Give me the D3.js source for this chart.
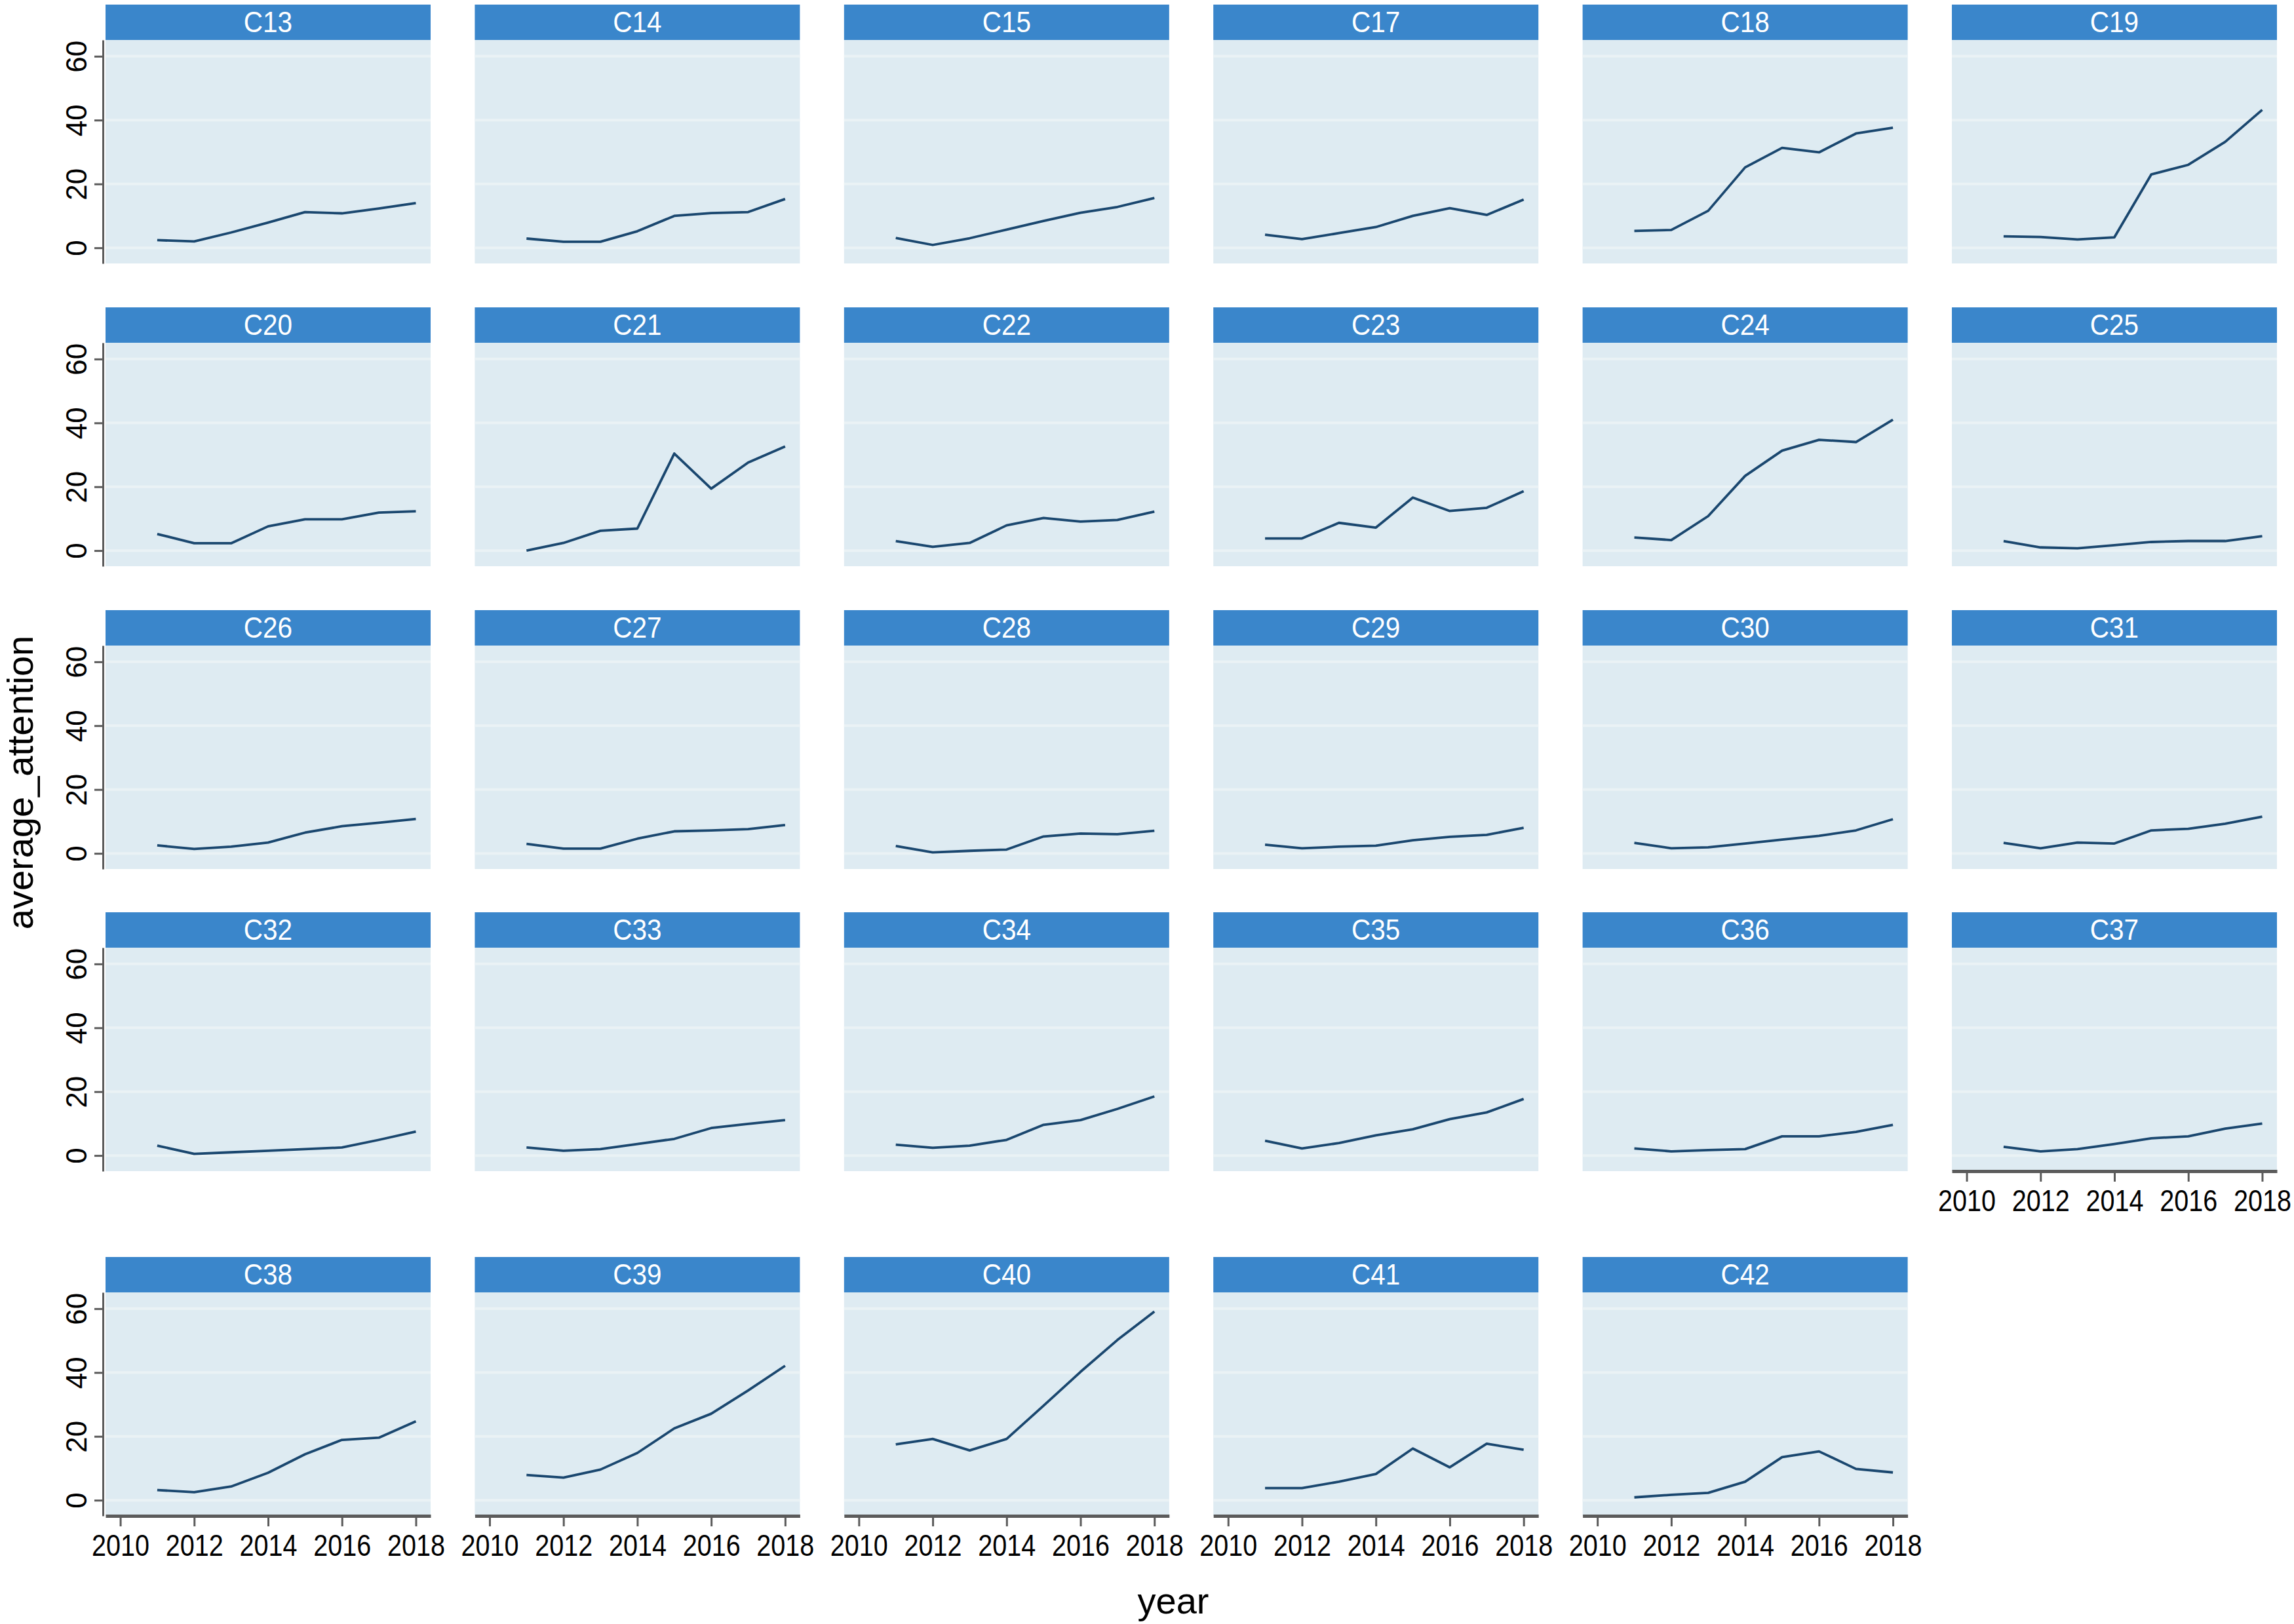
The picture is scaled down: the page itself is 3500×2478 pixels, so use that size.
<!DOCTYPE html>
<html>
<head>
<meta charset="utf-8">
<script src="https://cdn.jsdelivr.net/npm/d3@7"></script>
<style>
  body { margin: 0; background: #fff; }
  svg text { font-family: "Liberation Sans", Arial, sans-serif; }
</style>
</head>
<body>
<div id="chart"></div>
<script>
// years on the x axis
var years = [2011, 2012, 2013, 2014, 2015, 2016, 2017, 2018];
var xTicks = [2010, 2012, 2014, 2016, 2018];
var yTicks = [0, 20, 40, 60];

// panel names, in reading order
var panels = ["C13","C14","C15","C17","C18","C19",
              "C20","C21","C22","C23","C24","C25",
              "C26","C27","C28","C29","C30","C31",
              "C32","C33","C34","C35","C36","C37",
              "C38","C39","C40","C41","C42"];

// average_attention per panel, 2011..2018
var C13 = [2.4, 2.0, 4.8, 7.9, 11.2, 10.8, 12.3, 14.0];
var C14 = [2.9, 1.9, 1.9, 5.2, 10.0, 10.9, 11.2, 15.3];
var C15 = [3.1, 0.9, 3.0, 5.7, 8.4, 11.0, 12.8, 15.6];
var C17 = [4.1, 2.7, 4.6, 6.5, 10.0, 12.4, 10.3, 15.1];
var C18 = [5.3, 5.6, 11.6, 25.2, 31.3, 29.9, 35.8, 37.6];
var C19 = [3.6, 3.4, 2.6, 3.3, 23.0, 26.0, 33.2, 43.2];
var C20 = [5.2, 2.3, 2.3, 7.6, 9.8, 9.8, 11.9, 12.3];
var C21 = [0.0, 2.4, 6.2, 6.9, 30.4, 19.4, 27.6, 32.6];
var C22 = [3.0, 1.2, 2.4, 7.9, 10.2, 9.1, 9.6, 12.2];
var C23 = [3.8, 3.8, 8.7, 7.2, 16.6, 12.4, 13.4, 18.6];
var C24 = [4.1, 3.3, 10.8, 23.4, 31.3, 34.7, 34.0, 41.0];
var C25 = [3.0, 1.0, 0.7, 1.7, 2.7, 3.0, 3.0, 4.5];
var C26 = [2.5, 1.4, 2.1, 3.4, 6.5, 8.5, 9.6, 10.8];
var C27 = [3.0, 1.5, 1.5, 4.6, 6.9, 7.2, 7.6, 8.9];
var C28 = [2.3, 0.3, 0.8, 1.2, 5.3, 6.2, 6.0, 7.1];
var C29 = [2.7, 1.6, 2.1, 2.4, 4.1, 5.2, 5.8, 8.0];
var C30 = [3.3, 1.6, 1.9, 3.1, 4.3, 5.5, 7.2, 10.7];
var C31 = [3.3, 1.6, 3.4, 3.1, 7.2, 7.7, 9.3, 11.5];
var C32 = [3.1, 0.5, 1.0, 1.5, 2.0, 2.5, 4.9, 7.5];
var C33 = [2.5, 1.5, 2.0, 3.6, 5.2, 8.6, 9.9, 11.1];
var C34 = [3.4, 2.4, 3.1, 4.9, 9.6, 11.1, 14.6, 18.5];
var C35 = [4.6, 2.2, 3.9, 6.3, 8.2, 11.4, 13.5, 17.7];
var C36 = [2.2, 1.3, 1.7, 2.0, 6.0, 6.0, 7.4, 9.6];
var C37 = [2.7, 1.3, 2.0, 3.6, 5.4, 6.0, 8.4, 10.0];
var C38 = [3.2, 2.5, 4.3, 8.6, 14.4, 18.9, 19.6, 24.7];
var C39 = [7.9, 7.1, 9.6, 14.8, 22.5, 27.1, 34.4, 42.1];
var C40 = [17.5, 19.2, 15.6, 19.2, 29.6, 40.2, 50.2, 59.1];
var C41 = [3.8, 3.8, 5.8, 8.2, 16.2, 10.3, 17.7, 15.8];
var C42 = [0.9, 1.7, 2.3, 5.8, 13.5, 15.3, 9.8, 8.7];

var values = [C13,C14,C15,C17,C18,C19,C20,C21,C22,C23,C24,C25,
              C26,C27,C28,C29,C30,C31,C32,C33,C34,C35,C36,C37,
              C38,C39,C40,C41,C42];

var W = 3500, H = 2478;
var ncol = 6;
var colLeft = 161, colPitch = 563.4, pw = 496;
var rowTop = [7, 469, 931, 1392, 1918];
var stripH = 54, ph = 341;

var stripColor = "#3a86cb",
    plotBg = "#deebf2",
    gridColor = "#eaf2f5",
    lineColor = "#1a476f",
    axisColor = "#5b5b5b";

var svg = d3.select("#chart").append("svg")
    .attr("width", W)
    .attr("height", H)
    .attr("viewBox", "0,0," + W + "," + H);

var xScale = d3.scaleLinear().domain([2009.6, 2018.4]).range([0, pw]);
var yScale = d3.scaleLinear().domain([-4.9, 65.1]).range([ph, 0]);

var line = d3.line()
    .x(function(d){ return xScale(d.year); })
    .y(function(d){ return yScale(d.v); });

var n = panels.length;

panels.forEach(function(name, k){
    var row = Math.floor(k / ncol), col = k % ncol;
    var gx = colLeft + col * colPitch, gy = rowTop[row];
    var g = svg.append("g")
        .attr("class", "panel")
        .attr("transform", "translate(" + gx + "," + gy + ")");

    // strip
    g.append("rect")
        .attr("width", pw).attr("height", stripH)
        .attr("fill", stripColor);
    g.append("text")
        .attr("transform", "translate(" + (pw / 2) + "," + (stripH / 2 + 15) + ") scale(0.9,1)")
        .attr("text-anchor", "middle")
        .attr("fill", "#fff")
        .attr("font-size", 45)
        .text(name);

    var p = g.append("g").attr("transform", "translate(0," + stripH + ")");
    p.append("rect")
        .attr("width", pw).attr("height", ph)
        .attr("fill", plotBg);

    p.selectAll("line.grid").data(yTicks).enter().append("line")
        .attr("class", "grid")
        .attr("x1", 0).attr("x2", pw)
        .attr("y1", d => yScale(d)).attr("y2", d => yScale(d))
        .attr("stroke", gridColor)
        .attr("stroke-width", 4);

    var pts = years.map(function(y, i){ return {year: y, v: values[k][i]}; });
    p.append("path")
        .datum(pts)
        .attr("d", line)
        .attr("fill", "none")
        .attr("stroke", lineColor)
        .attr("stroke-width", 3.8)
        .attr("stroke-linejoin", "round");

    // y axis on the first column
    if (col === 0) {
        var ya = p.append("g")
            .attr("class", "axis y-axis")
            .attr("transform", "translate(-4,0)")
            .call(d3.axisLeft(yScale).tickValues(yTicks).tickSize(13).tickSizeOuter(0));
        ya.selectAll("text")
            .attr("x", null).attr("dy", null)
            .attr("text-anchor", "middle")
            .attr("transform", "translate(-25,0) rotate(-90)")
            .attr("font-size", 44)
            .attr("fill", "#000");
    }

    // x axis where no panel sits below
    if (k + ncol >= n) {
        var xa = p.append("g")
            .attr("class", "axis x-axis")
            .attr("transform", "translate(0," + ph + ")")
            .call(d3.axisBottom(xScale).tickValues(xTicks).tickFormat(d3.format("d"))
                  .tickSize(16).tickSizeOuter(0).tickPadding(12));
        xa.select(".domain").attr("stroke-width", 5);
        xa.selectAll("text")
            .attr("font-size", 46)
            .attr("transform", "scale(0.86,1)")
            .attr("fill", "#000");
    }
});

svg.selectAll(".axis .domain").attr("stroke", axisColor);
svg.selectAll(".y-axis .domain").attr("stroke-width", 3);
svg.selectAll(".axis .tick line").attr("stroke", axisColor).attr("stroke-width", 3);

// axis titles
svg.append("text")
    .attr("x", 1790).attr("y", 2462)
    .attr("text-anchor", "middle")
    .attr("font-size", 56)
    .text("year");

svg.append("text")
    .attr("transform", "translate(50,1194) rotate(-90)")
    .attr("text-anchor", "middle")
    .attr("font-size", 56)
    .text("average_attention");
</script>
</body>
</html>
